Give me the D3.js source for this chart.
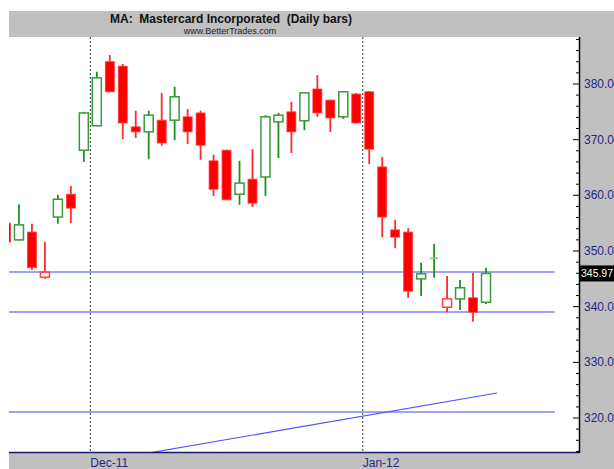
<!DOCTYPE html>
<html lang="en"><head><meta charset="UTF-8">
<script src="https://d3js.org/d3.v7.min.js"></script>
<style>
  body { margin: 0; background: #fff; }
  text { font-family: "Liberation Sans", Arial, sans-serif; }
</style>
</head>
<body>
<div id="chart"></div>
<script>
// daily bars, Nov 21 2011 .. Jan 17 2012
const dates = ["2011-11-21","2011-11-22","2011-11-23","2011-11-25","2011-11-28","2011-11-29","2011-11-30",
  "2011-12-01","2011-12-02","2011-12-05","2011-12-06","2011-12-07","2011-12-08","2011-12-09",
  "2011-12-12","2011-12-13","2011-12-14","2011-12-15","2011-12-16","2011-12-19","2011-12-20",
  "2011-12-21","2011-12-22","2011-12-23","2011-12-27","2011-12-28","2011-12-29","2011-12-30",
  "2012-01-03","2012-01-04","2012-01-05","2012-01-06","2012-01-09","2012-01-10","2012-01-11",
  "2012-01-12","2012-01-13","2012-01-17"];
const open  = [355.0,352.0,353.4,345.3,356.1,360.2,368.1,372.5,384.0,383.2,372.3,371.4,373.5,373.5,
  374.1,374.8,366.2,368.1,360.2,362.9,363.3,373.2,375.0,373.4,379.1,377.1,374.1,378.2,
  378.6,365.1,353.8,353.4,345.0,348.7,339.9,341.4,341.6,340.8];
const high  = [355.0,358.4,354.9,351.6,360.1,361.7,375.0,382.2,385.2,383.6,375.2,375.2,378.4,379.5,
  375.5,375.2,367.3,368.2,366.2,368.3,374.4,374.8,376.8,378.5,381.6,377.2,378.7,378.4,
  378.7,366.9,355.6,354.1,347.9,351.3,345.5,344.8,346.1,347.0];
const low   = [351.6,351.9,346.6,345.0,354.9,355.0,366.0,372.4,378.5,370.1,370.3,366.5,368.9,369.9,
  369.2,366.4,359.9,359.1,358.3,357.9,359.9,366.7,367.6,371.7,374.1,371.4,373.7,372.9,
  365.6,352.5,350.5,341.6,341.9,345.2,339.0,339.4,337.3,340.5];
const close = [351.6,354.7,347.0,346.2,359.3,357.7,374.8,381.1,378.6,373.0,371.4,374.4,369.4,377.7,
  371.4,369.0,361.1,359.2,362.2,358.6,374.1,374.4,371.4,378.4,374.8,373.9,378.6,373.0,
  368.3,356.1,352.5,342.8,345.9,348.7,341.4,343.4,339.0,345.97];
const priorClose = 356.0;

const levels = [346.23, 339.04, 321.08];          // horizontal lines
const trendIdx = [10.95, 37.85], trendPx = [313.7, 324.5];
const yTicks = [320, 330, 340, 350, 360, 370, 380];
const lastPrice = 345.97;

const width = 614, height = 469;
const frameL = 9, frameT = 11;
const plotL = 9, plotR = 579, plotT = 37, plotB = 453;

const x = d3.scaleLinear().domain([0, 37]).range([6, 486]);
const y = d3.scaleLinear().domain([313.72, 388.44]).range([plotB, plotT]);

const svg = d3.select("#chart").append("svg")
  .attr("width", width).attr("height", height)
  .attr("viewBox", [0, 0, width, height]);

svg.append("rect").attr("x", frameL).attr("y", frameT)
  .attr("width", width - frameL).attr("height", height - frameT).attr("fill", "#c0c0c0");
svg.append("rect").attr("x", plotL).attr("y", plotT)
  .attr("width", plotR - plotL).attr("height", plotB - plotT).attr("fill", "#fff");

svg.append("text").attr("x", 231).attr("y", 23).attr("text-anchor", "middle")
  .style("white-space", "pre").attr("font-size", 12).attr("font-weight", "bold").attr("fill", "#111")
  .text("MA:  Mastercard Incorporated  (Daily bars)");
svg.append("text").attr("x", 230).attr("y", 34).attr("text-anchor", "middle")
  .attr("font-size", 9).attr("fill", "#222").text("www.BetterTrades.com");

svg.append("clipPath").attr("id", "clip").append("rect")
  .attr("x", plotL).attr("y", plotT).attr("width", plotR - plotL).attr("height", plotB - plotT);
const g = svg.append("g").attr("clip-path", "url(#clip)");

const bars = dates.map((d, i) => ({
  i, date: new Date(d), o: open[i], h: high[i], l: low[i], c: close[i],
  up: close[i] >= (i ? close[i - 1] : priorClose)
}));

// month boundaries
const months = bars.filter((b, i) => i > 0 && b.date.getMonth() !== bars[i - 1].date.getMonth());
g.selectAll(".mline").data(months).join("line")
  .attr("x1", b => x(b.i - 0.5)).attr("x2", b => x(b.i - 0.5))
  .attr("y1", plotT).attr("y2", plotB)
  .attr("stroke", "#333").attr("stroke-dasharray", "2,2");

g.selectAll(".level").data(levels).join("line")
  .attr("x1", x(-1)).attr("x2", x(42.3))
  .attr("y1", d => y(d)).attr("y2", d => y(d))
  .attr("stroke", "#8080ff").attr("stroke-width", 1.4);

g.append("line")
  .attr("x1", x(trendIdx[0])).attr("y1", y(trendPx[0]))
  .attr("x2", x(trendIdx[1])).attr("y2", y(trendPx[1]))
  .attr("stroke", "#5050ff").attr("stroke-width", 1.1);

const red = "#ff0000", green = "#1f8f1f", bw = 9;
const cg = g.selectAll(".bar").data(bars).join("g");
cg.append("line")
  .attr("x1", b => x(b.i)).attr("x2", b => x(b.i))
  .attr("y1", b => y(b.h)).attr("y2", b => y(b.l))
  .attr("stroke", b => b.up ? green : "#ff2a2a").attr("stroke-width", 1.8);
cg.filter(b => b.o !== b.c).append("rect")
  .attr("x", b => x(b.i) - bw / 2)
  .attr("y", b => y(Math.max(b.o, b.c)))
  .attr("width", bw)
  .attr("height", b => Math.max(1, y(Math.min(b.o, b.c)) - y(Math.max(b.o, b.c))))
  .attr("fill", b => b.c > b.o ? "#fff" : (b.up ? green : red))
  .attr("stroke", b => b.up ? "#3a9a3a" : "#ff4040")
  .attr("stroke-width", b => b.c > b.o ? 1.5 : 0.8);
cg.filter(b => b.o === b.c).append("line")
  .attr("x1", b => x(b.i) - bw / 2).attr("x2", b => x(b.i) + bw / 2)
  .attr("y1", b => y(b.c)).attr("y2", b => y(b.c))
  .attr("stroke", b => b.up ? "#8cc88c" : red).attr("stroke-width", 1.5);

// plot border lines
svg.append("line").attr("x1", plotL).attr("x2", plotR).attr("y1", plotB - 0.5).attr("y2", plotB - 0.5)
  .attr("stroke", "#1a1a6a").attr("stroke-width", 1.5);
svg.append("line").attr("x1", plotR + 0.5).attr("x2", plotR + 0.5).attr("y1", plotT).attr("y2", plotB)
  .attr("stroke", "#000").attr("stroke-width", 1.5);

// right axis ticks
const minor = d3.range(314, 389, 2).filter(v => v % 10 !== 0);
svg.selectAll(".minor").data(minor).join("line")
  .attr("x1", plotR - 3).attr("x2", plotR).attr("y1", d => y(d)).attr("y2", d => y(d))
  .attr("stroke", "#000");
svg.selectAll(".major").data(yTicks).join("line")
  .attr("x1", plotR - 6).attr("x2", plotR).attr("y1", d => y(d)).attr("y2", d => y(d))
  .attr("stroke", "#000");
svg.selectAll(".ylab").data(yTicks).join("text")
  .attr("x", 584).attr("y", d => y(d) + 4).attr("font-size", 12).attr("fill", "#262680")
  .text(d => d.toFixed(2));

svg.append("rect").attr("x", plotR + 1).attr("y", y(lastPrice) - 8)
  .attr("width", width - plotR - 1).attr("height", 16).attr("fill", "#000");
svg.append("text").attr("x", 581).attr("y", y(lastPrice) + 4).attr("font-size", 11.5)
  .attr("textLength", 32).attr("lengthAdjust", "spacingAndGlyphs")
  .attr("fill", "#fff").text(lastPrice.toFixed(2));

// month labels
const fmt = d3.timeFormat("%b-%y");
svg.selectAll(".xlab").data(months).join("text")
  .attr("x", b => x(b.i - 0.5)).attr("y", 467).attr("font-size", 12).attr("fill", "#262680")
  .text(b => fmt(b.date));
</script>
</body>
</html>
